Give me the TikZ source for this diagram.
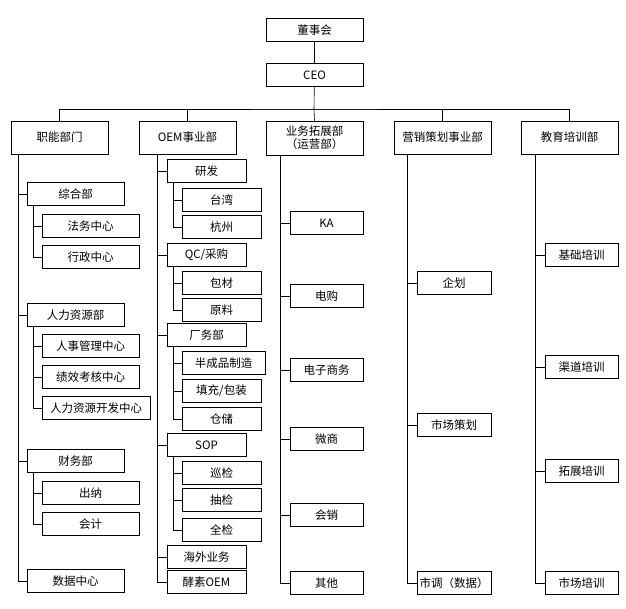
\documentclass[tikz,border=0pt]{standalone}
\usepackage{fontspec}
\setmainfont{Noto Sans CJK SC}
\begin{document}
\begin{tikzpicture}[x=1pt,y=-1pt,
    box/.style={draw, line width=0.6pt, minimum height=23pt, inner sep=0pt, font=\fontsize{11.5}{13}\selectfont},
    line/.style={line width=0.6pt}]
  \useasboundingbox (0,0) rectangle (626,608);
  % box: name, x1, x2, ycenter, text
  \newcommand\orgbox[5]{\node[box, minimum width=#3pt-#2pt] (#1) at ({(#2+#3)/2},#4) {#5};}
  \newcommand\hook[2]{\draw[line] (#1 |- #2.west) -- (#2.west);}

  \orgbox{board}{266}{363}{30}{董事会}
  \orgbox{ceo}{266}{363}{75}{CEO}
  \draw[line] (board) -- (ceo);

  \node[box, minimum width=97pt, minimum height=33pt] (func) at (59.5,137.5) {职能部门};
  \node[box, minimum width=97pt, minimum height=33pt] (oem) at (187.5,137.5) {OEM事业部};
  \node[box, minimum width=97pt, minimum height=34pt, align=center] (biz) at (314.5,138)
    {业务拓展部\\（运营部）};
  \node[box, minimum width=97pt, minimum height=33pt] (mkt) at (442.5,137.5) {营销策划事业部};
  \node[box, minimum width=97pt, minimum height=33pt] (edu) at (569.5,137.5) {教育培训部};

  \coordinate (bus) at (314,109);
  \draw[line] (ceo) -- (bus);
  \draw[line] (func.north) |- (bus) -| (edu.north);
  \draw[line] (oem.north) |- (bus) -| (mkt.north);
  \draw[line] (bus) -- (biz.north);

  % 职能部门
  \coordinate (t1) at (18,0);
  \orgbox{zh}{27}{124}{194}{综合部}
  \orgbox{fw}{42}{139}{226}{法务中心}
  \orgbox{xz}{42}{139}{257}{行政中心}
  \orgbox{hr}{27}{124}{315}{人力资源部}
  \orgbox{rs}{42}{139}{346}{人事管理中心}
  \orgbox{jx}{42}{139}{377}{绩效考核中心}
  \orgbox{kf}{42}{150}{408}{人力资源开发中心}
  \orgbox{cw}{27}{124}{461}{财务部}
  \orgbox{cn}{42}{139}{493}{出纳}
  \orgbox{kj}{42}{139}{524}{会计}
  \orgbox{sj}{27}{124}{581}{数据中心}
  \draw[line] (t1 |- func.south) -- (t1 |- sj.west) -- (sj.west);
  \foreach \n in {zh,hr,cw} {\hook{t1}{\n}}
  \coordinate (t1a) at (33,0);
  \draw[line] (t1a |- zh.south) -- (t1a |- xz.west);
  \draw[line] (t1a |- hr.south) -- (t1a |- kf.west);
  \draw[line] (t1a |- cw.south) -- (t1a |- kj.west);
  \foreach \n in {fw,xz,rs,jx,kf,cn,kj} {\hook{t1a}{\n}}

  % OEM事业部
  \coordinate (t2) at (157,0);
  \orgbox{yf}{167}{246}{171}{研发}
  \orgbox{tw}{182}{261}{200}{台湾}
  \orgbox{hz}{182}{261}{227}{杭州}
  \orgbox{qc}{167}{246}{255}{QC/采购}
  \orgbox{bc}{182}{261}{283}{包材}
  \orgbox{yl}{182}{261}{310}{原料}
  \orgbox{cwb}{167}{246}{335}{厂务部}
  \orgbox{bcp}{182}{265}{363}{半成品制造}
  \orgbox{tc}{182}{261}{391}{填充/包装}
  \orgbox{cc}{182}{261}{419}{仓储}
  \orgbox{sop}{167}{246}{445}{SOP}
  \orgbox{xj}{182}{261}{473}{巡检}
  \orgbox{cj}{182}{261}{500}{抽检}
  \orgbox{qj}{182}{261}{530}{全检}
  \orgbox{hw}{167}{246}{557}{海外业务}
  \orgbox{js}{167}{246}{582}{酵素OEM}
  \draw[line] (t2 |- oem.south) -- (t2 |- js.west) -- (js.west);
  \foreach \n in {yf,qc,cwb,sop,hw} {\hook{t2}{\n}}
  \coordinate (t2a) at (173,0);
  \draw[line] (t2a |- yf.south) -- (t2a |- hz.west);
  \draw[line] (t2a |- qc.south) -- (t2a |- yl.west);
  \draw[line] (t2a |- cwb.south) -- (t2a |- cc.west);
  \draw[line] (t2a |- sop.south) -- (t2a |- qj.west);
  \foreach \n in {tw,hz,bc,yl,bcp,tc,cc,xj,cj,qj} {\hook{t2a}{\n}}

  % 业务拓展部
  \coordinate (t3) at (280,0);
  \orgbox{ka}{290}{363}{223}{KA}
  \orgbox{dg}{290}{363}{296}{电购}
  \orgbox{ds}{290}{363}{370}{电子商务}
  \orgbox{ws}{290}{363}{439}{微商}
  \orgbox{hx}{290}{363}{515}{会销}
  \orgbox{qt}{290}{363}{583}{其他}
  \draw[line] (t3 |- biz.south) -- (t3 |- qt.west) -- (qt.west);
  \foreach \n in {ka,dg,ds,ws,hx} {\hook{t3}{\n}}

  % 营销策划事业部
  \coordinate (t4) at (407,0);
  \orgbox{qh}{417}{491}{283}{企划}
  \orgbox{sc}{417}{491}{425}{市场策划}
  \orgbox{sd}{417}{491}{583}{市调（数据）}
  \draw[line] (t4 |- mkt.south) -- (t4 |- sd.west) -- (sd.west);
  \foreach \n in {qh,sc} {\hook{t4}{\n}}

  % 教育培训部
  \coordinate (t5) at (535,0);
  \orgbox{jc}{545}{618}{255}{基础培训}
  \orgbox{qd}{545}{618}{367}{渠道培训}
  \orgbox{tz}{545}{618}{471}{拓展培训}
  \orgbox{scp}{545}{618}{583}{市场培训}
  \draw[line] (t5 |- edu.south) -- (t5 |- scp.west) -- (scp.west);
  \foreach \n in {jc,qd,tz} {\hook{t5}{\n}}
\end{tikzpicture}
\end{document}
